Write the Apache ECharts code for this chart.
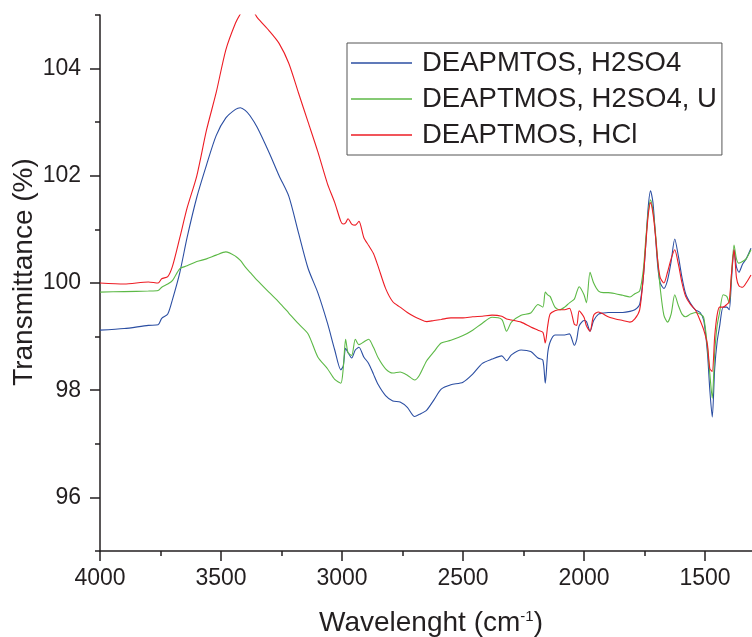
<!DOCTYPE html>
<html>
<head>
<meta charset="utf-8">
<script src="https://cdn.jsdelivr.net/npm/echarts@6/dist/echarts.min.js"></script>
<style>
html,body{margin:0;padding:0;background:#fff;}
#chart{width:752px;height:637px;}
</style>
</head>
<body>
<div id="chart"></div>
<script>
// Wavenumber (cm-1), shared by all three spectra
const wavenumber = [
4000,3900,3800,3760,3745,3720,3700,3670,3640,3600,3560,3520,3480,3440,3420,3400,3380,3350,3300,3260,
3220,3180,3140,3100,3060,3030,3005,2995,2985,2975,2960,2945,2930,2910,2890,2870,2850,2820,2790,2760,
2730,2700,2680,2650,2620,2590,2550,2500,2460,2420,2380,2340,2320,2300,2260,2220,2190,2170,2160,2150,
2140,2120,2100,2080,2060,2040,2030,2020,2000,1990,1975,1960,1940,1920,1900,1870,1840,1810,1790,1770,
1755,1745,1735,1725,1715,1705,1695,1685,1670,1655,1640,1625,1610,1595,1580,1560,1540,1520,1505,1490,
1480,1470,1460,1450,1440,1425,1410,1400,1390,1380,1370,1360,1345,1330,1310
];
// DEAPMTOS, H2SO4 (blue)
const deapmtosH2SO4 = [
99.12,99.15,99.21,99.22,99.34,99.42,99.70,100.20,100.85,101.60,102.20,102.75,103.08,103.24,103.27,103.22,103.12,102.90,102.42,102.00,
101.62,100.94,100.27,99.82,99.25,98.75,98.38,98.45,98.78,98.70,98.60,98.75,98.80,98.62,98.50,98.30,98.10,97.90,97.80,97.78,
97.68,97.51,97.55,97.63,97.82,98.02,98.10,98.15,98.30,98.50,98.58,98.64,98.55,98.66,98.75,98.72,98.60,98.56,98.13,98.69,
98.90,99.03,99.03,99.03,99.05,98.84,98.95,99.20,99.30,99.28,99.10,99.30,99.42,99.44,99.45,99.45,99.45,99.47,99.50,99.60,
100.10,100.70,101.40,101.72,101.50,100.90,100.30,100.00,99.90,100.05,100.40,100.82,100.50,100.10,99.80,99.62,99.50,99.45,99.30,98.70,
98.00,97.50,98.40,98.90,99.18,99.55,99.55,99.50,100.10,100.62,100.30,100.20,100.35,100.45,100.65
];
// DEAPTMOS, H2SO4, U (green)
const deaptmosH2SO4U = [
99.83,99.84,99.85,99.86,99.92,99.98,100.05,100.27,100.32,100.40,100.45,100.52,100.58,100.50,100.42,100.30,100.20,100.05,99.82,99.64,
99.44,99.24,99.05,98.62,98.40,98.20,98.13,98.40,98.95,98.70,98.65,98.95,98.85,98.90,98.95,98.80,98.60,98.40,98.32,98.34,
98.28,98.19,98.28,98.55,98.72,98.88,98.93,99.02,99.12,99.25,99.36,99.32,99.10,99.27,99.40,99.44,99.60,99.55,99.83,99.78,
99.75,99.55,99.50,99.55,99.63,99.70,99.83,99.93,99.78,99.63,100.20,100.00,99.85,99.82,99.82,99.80,99.77,99.74,99.80,99.85,
100.24,100.80,101.30,101.55,101.35,100.95,100.40,99.90,99.40,99.27,99.42,99.78,99.58,99.42,99.37,99.42,99.45,99.42,99.35,98.80,
98.30,97.85,98.70,99.20,99.44,99.78,99.75,99.62,100.20,100.71,100.45,100.37,100.40,100.45,100.62
];
// DEAPTMOS, HCl (red)
const deaptmosHCl = [
100.00,99.98,100.02,100.00,100.08,100.12,100.32,100.85,101.40,102.00,102.85,103.55,104.35,104.85,105.02,105.15,105.15,104.95,104.70,104.47,
104.10,103.55,103.00,102.45,101.85,101.50,101.15,101.10,101.12,101.20,101.10,101.08,101.15,100.85,100.70,100.55,100.30,99.90,99.65,99.55,
99.45,99.37,99.33,99.28,99.30,99.32,99.35,99.35,99.37,99.38,99.40,99.38,99.33,99.31,99.27,99.18,99.12,99.08,98.88,99.20,
99.42,99.48,99.50,99.50,99.53,99.23,99.21,99.48,99.36,99.20,99.10,99.40,99.46,99.42,99.37,99.33,99.30,99.27,99.33,99.50,
100.10,100.70,101.25,101.50,101.30,100.90,100.40,100.10,100.00,100.20,100.45,100.62,100.35,100.00,99.75,99.60,99.50,99.30,99.12,98.85,
98.40,98.35,99.00,99.40,99.55,99.55,99.60,99.65,100.20,100.62,100.10,99.95,99.92,100.00,100.15
];
const seriesNames = ['DEAPMTOS, H2SO4', 'DEAPTMOS, H2SO4, U', 'DEAPTMOS, HCl'];
const seriesValues = [deapmtosH2SO4, deaptmosH2SO4U, deaptmosHCl];
const seriesColors = ['#2b4ea2', '#5cb946', '#ed1c24'];
const yMajorTicks = [96, 98, 100, 102, 104];

const FONT = 'Liberation Sans, Arial, Helvetica, sans-serif';
const INK = '#231f20';

const chart = echarts.init(document.getElementById('chart'), null, {renderer: 'canvas'});
const option = {
  animation: false,
  backgroundColor: '#ffffff',
  grid: {left: 100, right: -74, top: 15, bottom: 86, containLabel: false, outerBoundsMode: 'none'},
  legend: {
    orient: 'vertical', left: 347, top: 43,
    padding: [6, 5, 6, 4], itemGap: 8, itemWidth: 61, itemHeight: 1.5, icon: 'rect',
    borderColor: '#555555', borderWidth: 1,
    textStyle: {fontSize: 27.5, fontFamily: FONT, color: INK, padding: [0, 0, 0, 5]},
    data: seriesNames
  },
  xAxis: {
    type: 'value', inverse: true, min: 1000, max: 4000, interval: 500,
    axisLine: {show: true, onZero: false, lineStyle: {color: INK, width: 1.5}},
    axisTick: {show: true, length: 10, lineStyle: {color: INK, width: 1.5}},
    minorTick: {show: true, splitNumber: 2, length: 5, lineStyle: {color: INK, width: 1.5}},
    axisLabel: {fontSize: 23, fontFamily: FONT, color: INK, margin: 16,
      formatter: v => String(v)},
    splitLine: {show: false}, minorSplitLine: {show: false}
  },
  yAxis: [{
    type: 'value', min: 95, max: 105, interval: 1, position: 'left',
    axisLine: {show: true, onZero: false, lineStyle: {color: INK, width: 1.5}},
    axisTick: {show: true, length: 5, lineStyle: {color: INK, width: 1.5}},
    axisLabel: {fontSize: 23, fontFamily: FONT, color: INK, margin: 19,
      customValues: yMajorTicks, formatter: v => String(v)},
    splitLine: {show: false}
  }, {
    type: 'value', min: 95, max: 105, interval: 1, position: 'left', offset: 0,
    axisLine: {show: false},
    axisTick: {show: true, length: 10, customValues: yMajorTicks, lineStyle: {color: INK, width: 1.5}},
    axisLabel: {show: false},
    splitLine: {show: false}
  }],
  graphic: [{
    type: 'text', x: 431, y: 623,
    style: {
      text: '{a|Wavelenght (cm}{b|-1}{a|)}',
      align: 'center', verticalAlign: 'middle',
      rich: {
        a: {fontSize: 28, fontFamily: FONT, fill: INK, color: INK},
        b: {fontSize: 15, fontFamily: FONT, fill: INK, color: INK, verticalAlign: 'top'}
      }
    }
  }, {
    type: 'text', x: 24, y: 272, rotation: Math.PI / 2,
    style: {
      text: 'Transmittance (%)', fontSize: 28, fontFamily: FONT, fill: INK,
      align: 'center', verticalAlign: 'middle'
    }
  }],
  series: seriesNames.map((name, i) => ({
    name: name, type: 'line', yAxisIndex: 0,
    showSymbol: false, smooth: 0.25, clip: true,
    lineStyle: {width: 1.1, color: seriesColors[i]},
    itemStyle: {color: seriesColors[i]},
    data: wavenumber.map((w, k) => [w, seriesValues[i][k]])
  }))
};
chart.setOption(option);
</script>
</body>
</html>
